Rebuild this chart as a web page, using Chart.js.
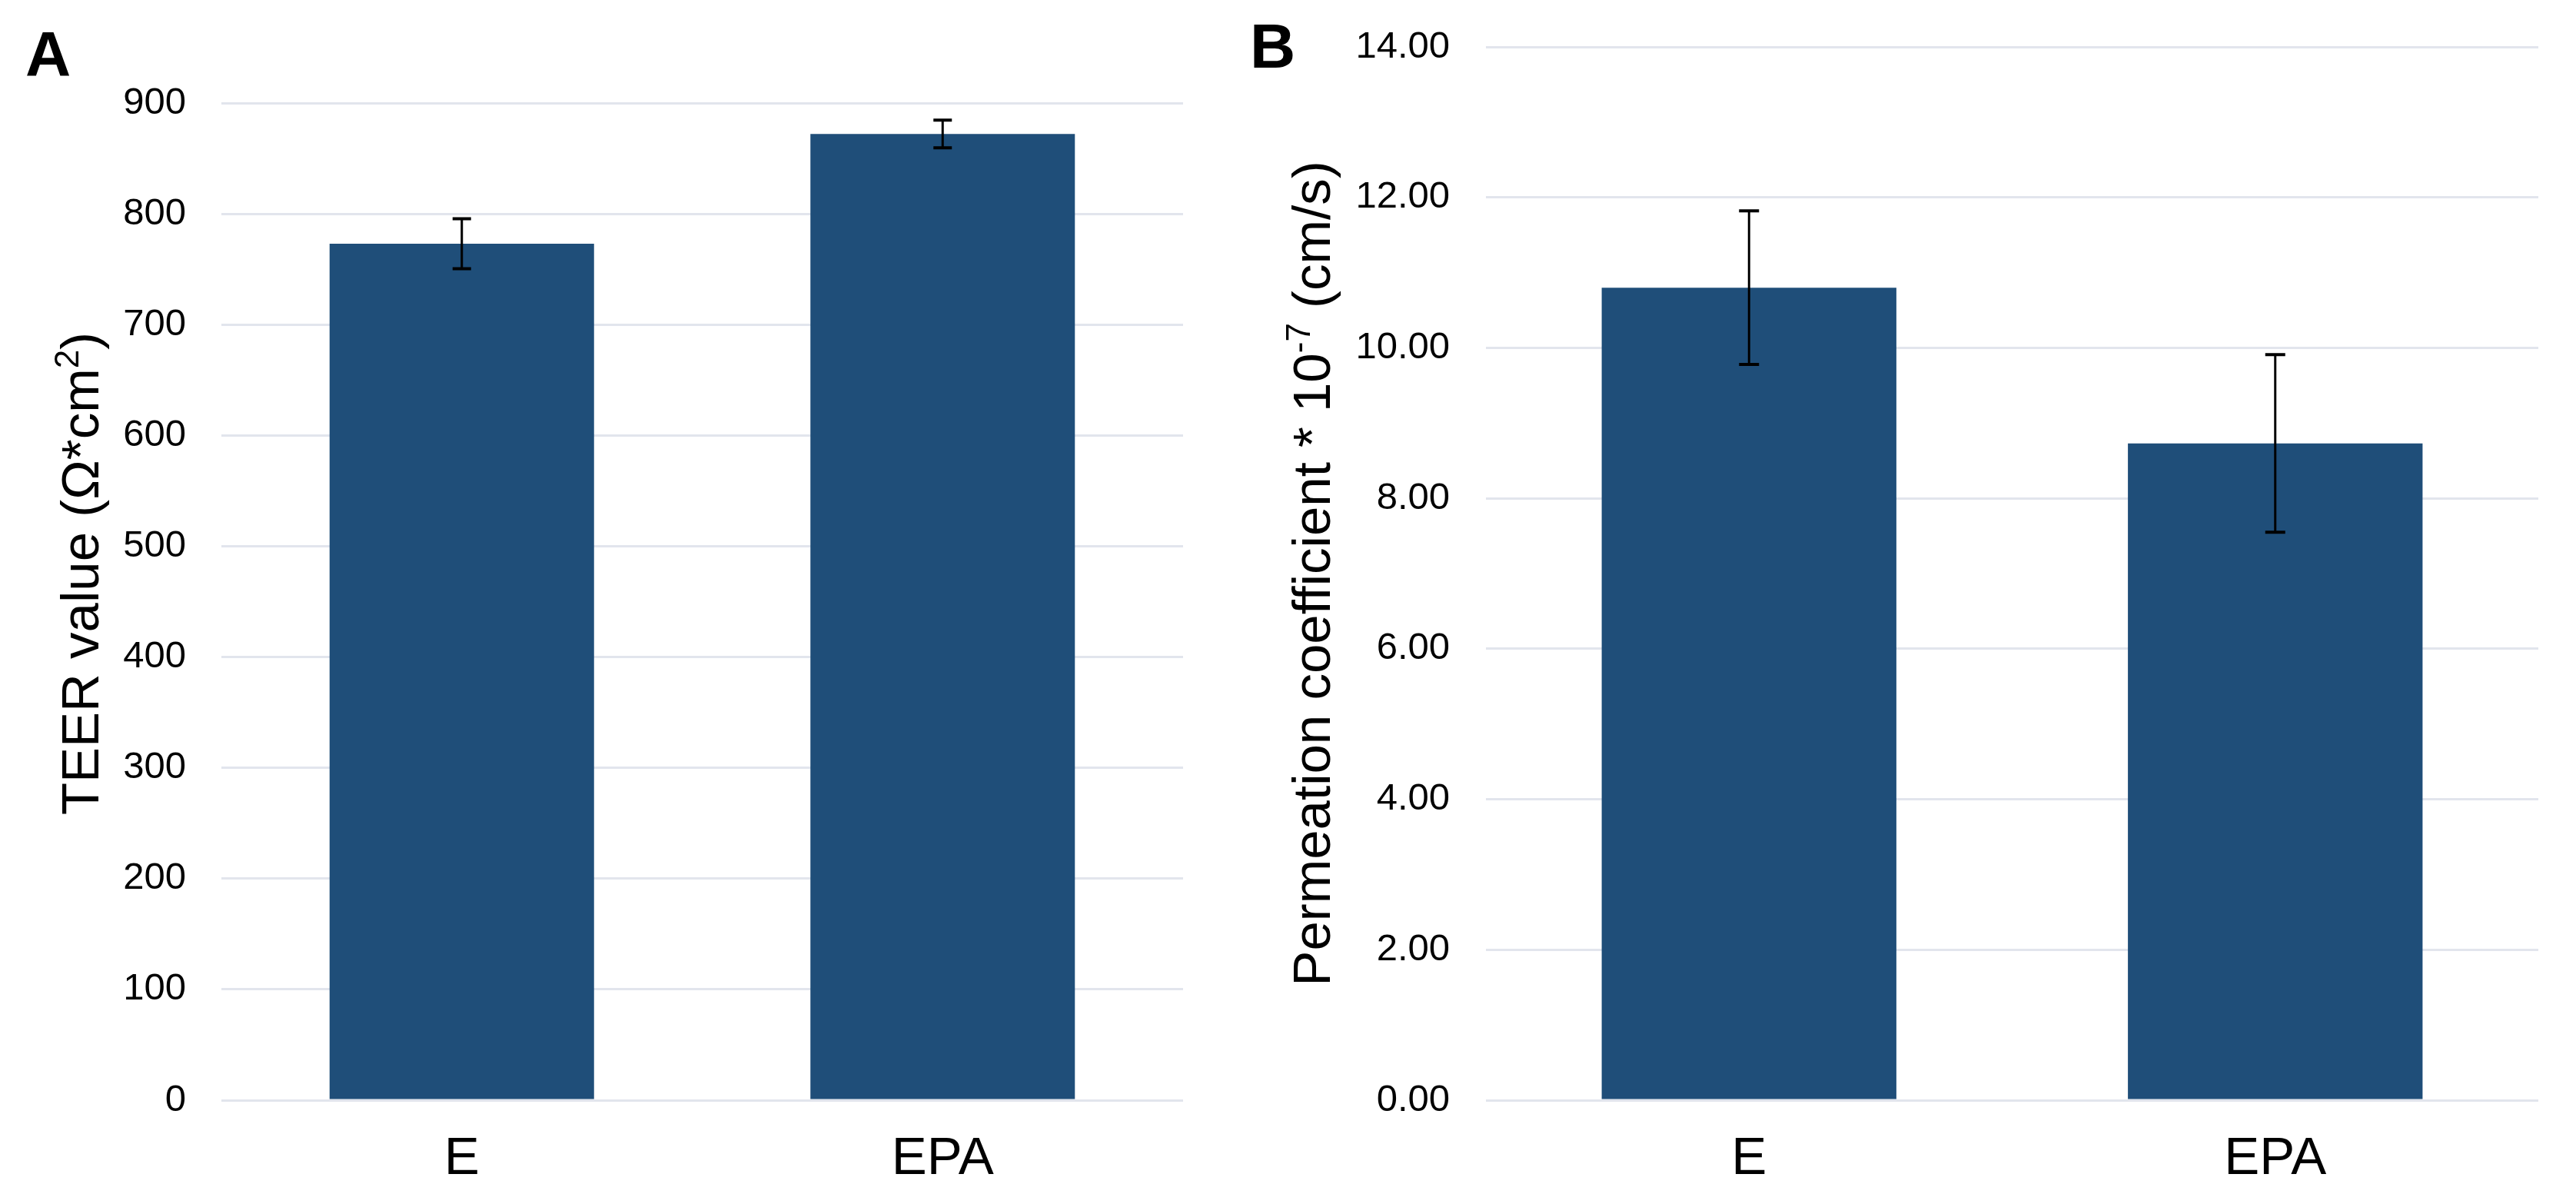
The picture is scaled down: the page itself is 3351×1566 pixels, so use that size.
<!DOCTYPE html>
<html>
<head>
<meta charset="utf-8">
<script src="https://cdn.jsdelivr.net/npm/chart.js@4/dist/chart.umd.min.js"></script>
<style>
  html, body { margin: 0; padding: 0; background: #ffffff; }
  body { width: 3351px; height: 1566px; position: relative; overflow: hidden; }
  canvas { position: absolute; top: 0; }
  #cA { left: 0; }
  #cB { left: 1600px; }
</style>
</head>
<body>
<canvas id="cA" width="1600" height="1566"></canvas>
<canvas id="cB" width="1751" height="1566"></canvas>
<script>
// ---- data ----
const categories = ['E', 'EPA'];
const teerMeans = [773, 872];
const teerErrors = [22.5, 12.5];
const permMeans = [10.80, 8.73];
const permErrors = [1.02, 1.18];
const teerTicks = { min: 0, max: 900, step: 100 };
const permTicks = { min: 0, max: 14, step: 2 };

const FONT = '"Liberation Sans", Arial, Helvetica, sans-serif';
const BAR = '#1F4E79';
const GRID = '#e2e5ed';

const errorBarPlugin = {
  id: 'errorBars',
  afterDatasetsDraw(chart, args, opts) {
    const ctx = chart.ctx;
    const xs = chart.scales.x, ys = chart.scales.y;
    const means = opts.means, errs = opts.errors;
    ctx.save();
    ctx.strokeStyle = '#000';
    means.forEach((m, i) => {
      const x = xs.getPixelForValue(i);
      const yT = ys.getPixelForValue(m + errs[i]);
      const yB = ys.getPixelForValue(m - errs[i]);
      ctx.lineWidth = 3;
      ctx.beginPath();
      ctx.moveTo(x, yT); ctx.lineTo(x, yB);
      ctx.stroke();
      ctx.lineWidth = 4;
      ctx.beginPath();
      ctx.moveTo(x - opts.cap / 2, yT); ctx.lineTo(x + opts.cap / 2, yT);
      ctx.moveTo(x - opts.cap / 2, yB); ctx.lineTo(x + opts.cap / 2, yB);
      ctx.stroke();
    });
    ctx.restore();
  }
};

// draws rotated y title (with superscript pieces) and panel letter
const decorPlugin = {
  id: 'decor',
  afterDraw(chart, args, opts) {
    const ctx = chart.ctx;
    ctx.save();
    ctx.fillStyle = '#000';
    ctx.font = 'bold 82px ' + FONT;
    ctx.textBaseline = 'alphabetic';
    ctx.textAlign = 'left';
    ctx.fillText(opts.letter, opts.letterX, opts.letterY);
    const parts = opts.parts;
    const mainSize = 69, supSize = 44;
    let total = 0;
    parts.forEach(p => {
      ctx.font = (p.sup ? supSize : mainSize) + 'px ' + FONT;
      p.w = ctx.measureText(p.t).width;
      total += p.w;
    });
    ctx.translate(opts.titleX, opts.titleCY);
    ctx.rotate(-Math.PI / 2);
    let x = -total / 2;
    parts.forEach(p => {
      ctx.font = (p.sup ? supSize : mainSize) + 'px ' + FONT;
      ctx.fillText(p.t, x, p.sup ? -26 : 0);
      x += p.w;
    });
    ctx.restore();
  }
};

function makeChart(id, means, errors, ticksDef, cfg) {
  return new Chart(document.getElementById(id), {
    type: 'bar',
    data: {
      labels: categories,
      datasets: [{
        data: means,
        backgroundColor: BAR,
        borderWidth: 0,
        barPercentage: cfg.barPct,
        categoryPercentage: 1.0
      }]
    },
    options: {
      responsive: false,
      animation: false,
      devicePixelRatio: 1,
      layout: { padding: { left: 0, right: cfg.padRight, top: cfg.padTop, bottom: 0 } },
      plugins: {
        legend: { display: false },
        tooltip: { enabled: false },
        errorBars: { means: means, errors: errors, cap: cfg.cap },
        decor: cfg.decor
      },
      scales: {
        x: {
          grid: { display: false, drawTicks: false },
          border: { display: false },
          ticks: { color: '#000', font: { family: FONT, size: 69 }, padding: 36 },
          afterFit(scale) { scale.height = 135; }
        },
        y: {
          min: ticksDef.min, max: ticksDef.max,
          grid: { color: GRID, lineWidth: 3, drawTicks: true, tickLength: cfg.tickPad, tickColor: 'rgba(0,0,0,0)' },
          border: { display: false },
          ticks: {
            stepSize: ticksDef.step,
            color: '#000',
            font: { family: FONT, size: 49 },
            padding: 0,
            callback: cfg.fmt
          },
          afterFit(scale) { scale.width = cfg.yWidth; }
        }
      }
    },
    plugins: [errorBarPlugin, decorPlugin]
  });
}

makeChart('cA', teerMeans, teerErrors, teerTicks, {
  barPct: 0.55, padRight: 61, padTop: 134, yWidth: 288, tickPad: 46, cap: 24,
  fmt: v => String(v),
  decor: {
    letter: 'A', letterX: 33, letterY: 98,
    titleX: 128, titleCY: 746,
    parts: [{ t: 'TEER value (\u03A9*cm' }, { t: '2', sup: true }, { t: ')' }]
  }
});

makeChart('cB', permMeans, permErrors, permTicks, {
  barPct: 0.56, padRight: 49, padTop: 61, yWidth: 333, tickPad: 47, cap: 26,
  fmt: v => Number(v).toFixed(2),
  decor: {
    letter: 'B', letterX: 26, letterY: 88,
    titleX: 130, titleCY: 746,
    parts: [{ t: 'Permeation coefficient * 10' }, { t: '-7', sup: true }, { t: ' (cm/s)' }]
  }
});
</script>
</body>
</html>
